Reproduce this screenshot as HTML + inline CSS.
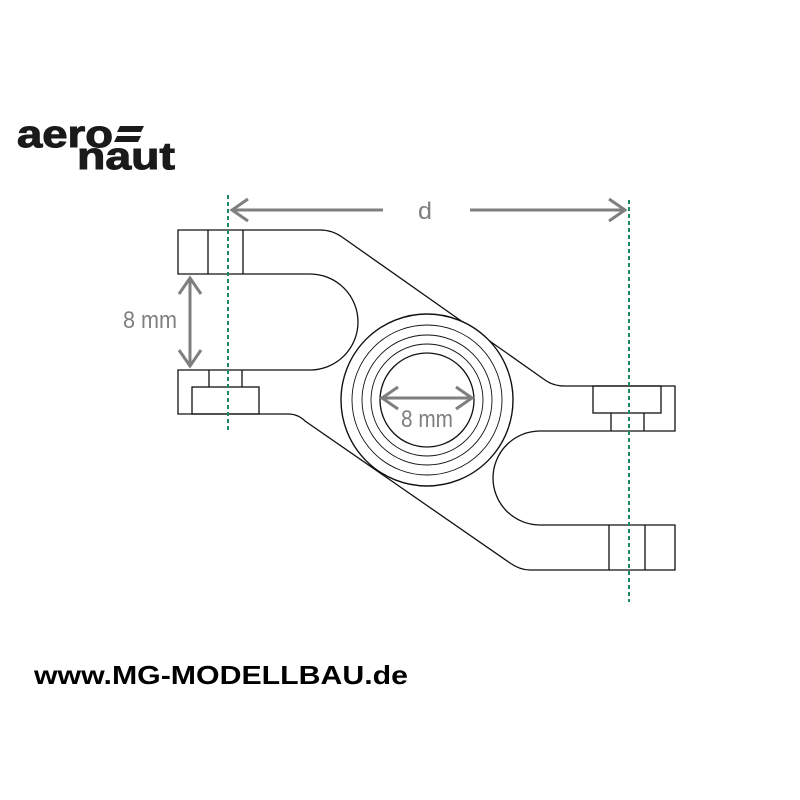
<!DOCTYPE html>
<html><head><style>body{margin:0;background:#fff}svg{display:block}</style></head><body>
<svg width="800" height="800" viewBox="0 0 800 800" xmlns="http://www.w3.org/2000/svg">
<rect width="800" height="800" fill="#fff"/>
<text x="17" y="147" font-family="Liberation Sans, sans-serif" font-weight="bold" font-size="38" fill="#1a1a1a" textLength="96" lengthAdjust="spacingAndGlyphs" stroke="#1a1a1a" stroke-width="1">aero</text>
<path d="M120 126 h24 l-3 6 h-24 z M117 136 h24 l-3 6 h-24 z" fill="#1a1a1a"/>
<text x="77" y="169" font-family="Liberation Sans, sans-serif" font-weight="bold" font-size="38" fill="#1a1a1a" textLength="98" lengthAdjust="spacingAndGlyphs" stroke="#1a1a1a" stroke-width="1">naut</text>
<g fill="none" stroke="#111" stroke-width="1.3">
<path d="M178 230 H320 Q332 230 342 237 L545 380 Q553 386 565 386 H675 V431 H540 A47 47 0 0 0 540 525 H675 V570 H530 Q520 570 510 563 L305 421 Q298 414 288 414 H178 V370 H310 A48 48 0 0 0 310 274 H178 Z"/>
<line x1="208" y1="230" x2="208" y2="274"/><line x1="243" y1="230" x2="243" y2="274"/>
<rect x="192" y="387" width="67" height="27"/>
<line x1="209" y1="370" x2="209" y2="387"/><line x1="242" y1="370" x2="242" y2="387"/>
<rect x="593" y="386" width="68" height="27"/>
<line x1="611" y1="413" x2="611" y2="431"/><line x1="644" y1="413" x2="644" y2="431"/>
<line x1="609" y1="525" x2="609" y2="570"/><line x1="645" y1="525" x2="645" y2="570"/>
</g>
<g fill="#fff" stroke="#111">
<circle cx="427" cy="400" r="86" stroke-width="1.4"/>
<circle cx="427" cy="400" r="75" stroke-width="0.9"/>
<circle cx="427" cy="400" r="65" stroke-width="0.9"/>
<circle cx="427" cy="400" r="56" stroke-width="0.9"/>
<circle cx="427" cy="400" r="47" stroke-width="1.3"/>
</g>
<g stroke="#1a8a5a" stroke-width="2" stroke-dasharray="4,3">
<line x1="228" y1="195" x2="228" y2="433"/>
<line x1="629" y1="200" x2="629" y2="602"/>
</g>
<g stroke="#7f7f7f" stroke-width="3" fill="none">
<line x1="232" y1="210" x2="383" y2="210"/><path d="M248 199 L232 210 L248 221"/>
<line x1="470" y1="210" x2="625" y2="210"/><path d="M609 199 L625 210 L609 221"/>
<line x1="190" y1="278" x2="190" y2="366"/><path d="M179 294 L190 278 L201 294 M179 350 L190 366 L201 350"/>
<line x1="382" y1="398" x2="472" y2="398"/><path d="M398 387 L382 398 L398 409 M456 387 L472 398 L456 409"/>
</g>
<g font-family="Liberation Sans, sans-serif" fill="#7f7f7f" font-size="24">
<text x="418" y="219" textLength="14" lengthAdjust="spacingAndGlyphs">d</text>
<text x="123" y="328" textLength="54" lengthAdjust="spacingAndGlyphs">8 mm</text>
<text x="401" y="427" textLength="52" lengthAdjust="spacingAndGlyphs">8 mm</text>
</g>
<text x="34" y="684" font-family="Liberation Sans, sans-serif" font-weight="bold" font-size="26" fill="#000" textLength="374" lengthAdjust="spacingAndGlyphs">www.MG-MODELLBAU.de</text>
</svg>
</body></html>
